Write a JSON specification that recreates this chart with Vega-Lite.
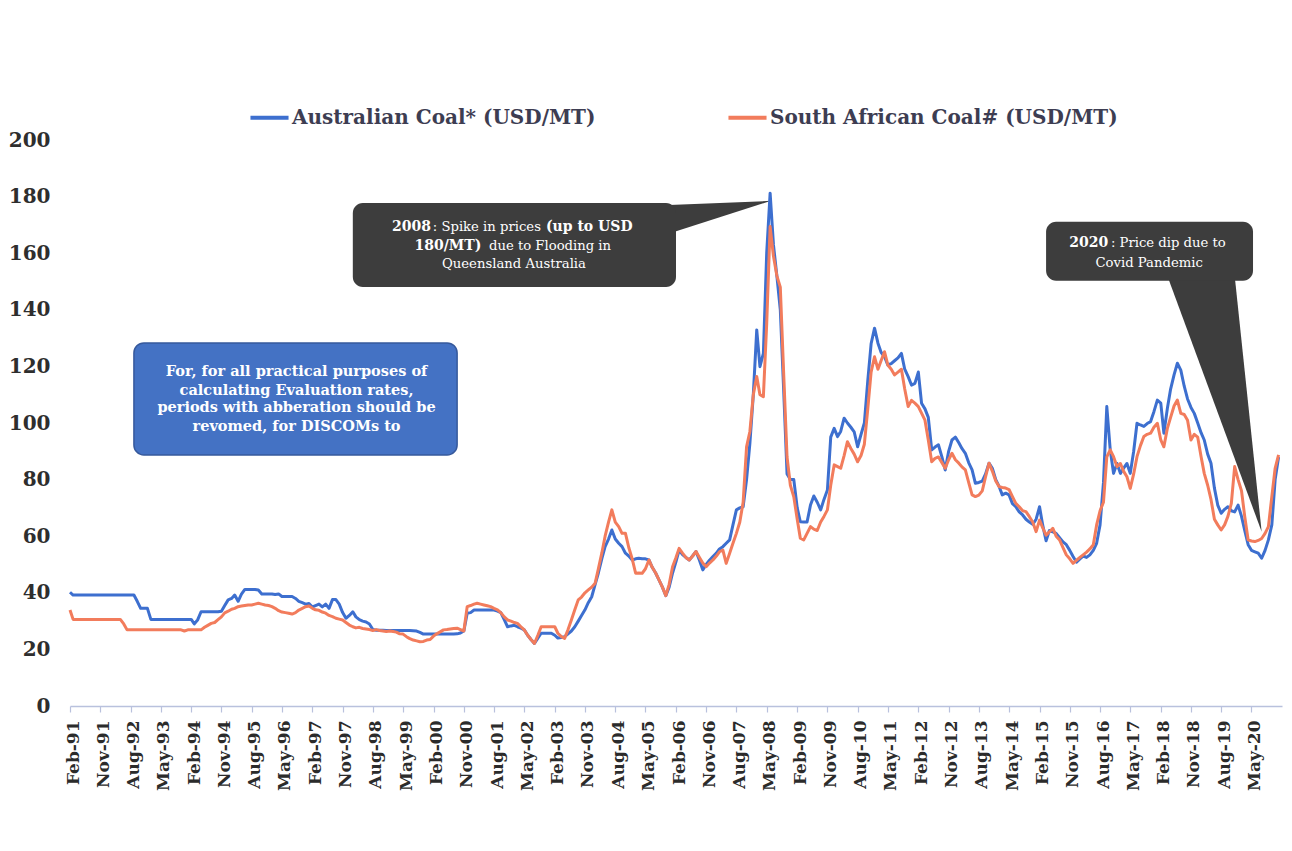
{
  "$schema": "https://vega.github.io/schema/vega-lite/v6.json",
  "width": 1212,
  "height": 566,
  "autosize": {"type": "none"},
  "padding": {"left": 70, "top": 140, "right": 10, "bottom": 145},
  "background": "white",
  "config": {
    "view": {"stroke": null},
    "font": "DejaVu Serif",
    "axisX": {
      "domainColor": "#b9c1dd", "domainWidth": 1.5,
      "tickColor": "#b9c1dd", "tickSize": 6, "tickWidth": 1.2,
      "labelAngle": -90, "labelPadding": 8, "labelOffset": 3,
      "labelFont": "DejaVu Serif", "labelFontWeight": "bold", "labelFontSize": 17,
      "labelColor": "#2b2b2b", "labelOverlap": false, "labelFlush": false,
      "grid": false
    },
    "axisY": {
      "domain": false, "ticks": false, "tickSize": 0, "grid": false,
      "labelPadding": 20,
      "labelFont": "DejaVu Serif", "labelFontWeight": "bold", "labelFontSize": 20,
      "labelColor": "#2e2e2e"
    }
  },
  "datasets": {
    "coal": [
      {"d":"1991-02-01","a":40.2,"s":33.9},{"d":"1991-03-01","a":39.2,"s":30.6},{"d":"1991-04-01","a":39.2,"s":30.6},{"d":"1991-05-01","a":39.2,"s":30.6},{"d":"1991-06-01","a":39.2,"s":30.6},{"d":"1991-07-01","a":39.2,"s":30.6},{"d":"1991-08-01","a":39.2,"s":30.6},{"d":"1991-09-01","a":39.2,"s":30.6},{"d":"1991-10-01","a":39.2,"s":30.6},{"d":"1991-11-01","a":39.2,"s":30.6},{"d":"1991-12-01","a":39.2,"s":30.6},
      {"d":"1992-01-01","a":39.2,"s":30.6},{"d":"1992-02-01","a":39.2,"s":30.6},{"d":"1992-03-01","a":39.2,"s":30.6},{"d":"1992-04-01","a":39.2,"s":30.6},{"d":"1992-05-01","a":39.2,"s":30.6},{"d":"1992-06-01","a":39.2,"s":29},{"d":"1992-07-01","a":39.2,"s":26.9},{"d":"1992-08-01","a":39.2,"s":26.9},{"d":"1992-09-01","a":39.2,"s":26.9},{"d":"1992-10-01","a":37,"s":26.9},{"d":"1992-11-01","a":34.5,"s":26.9},{"d":"1992-12-01","a":34.5,"s":26.9},
      {"d":"1993-01-01","a":34.5,"s":26.9},{"d":"1993-02-01","a":30.6,"s":26.9},{"d":"1993-03-01","a":30.6,"s":26.9},{"d":"1993-04-01","a":30.6,"s":26.9},{"d":"1993-05-01","a":30.6,"s":26.9},{"d":"1993-06-01","a":30.6,"s":26.9},{"d":"1993-07-01","a":30.6,"s":26.9},{"d":"1993-08-01","a":30.6,"s":26.9},{"d":"1993-09-01","a":30.6,"s":26.9},{"d":"1993-10-01","a":30.6,"s":26.9},{"d":"1993-11-01","a":30.6,"s":26.9},{"d":"1993-12-01","a":30.6,"s":26.5},
      {"d":"1994-01-01","a":30.6,"s":26.9},{"d":"1994-02-01","a":30.6,"s":26.9},{"d":"1994-03-01","a":29,"s":26.9},{"d":"1994-04-01","a":30.5,"s":26.9},{"d":"1994-05-01","a":33.3,"s":26.9},{"d":"1994-06-01","a":33.3,"s":27.8},{"d":"1994-07-01","a":33.3,"s":28.5},{"d":"1994-08-01","a":33.3,"s":29.2},{"d":"1994-09-01","a":33.3,"s":29.5},{"d":"1994-10-01","a":33.3,"s":30.5},{"d":"1994-11-01","a":33.5,"s":31.5},{"d":"1994-12-01","a":35.5,"s":32.9},
      {"d":"1995-01-01","a":37.5,"s":33.5},{"d":"1995-02-01","a":38,"s":34.2},{"d":"1995-03-01","a":39.2,"s":34.5},{"d":"1995-04-01","a":37,"s":35.1},{"d":"1995-05-01","a":39.5,"s":35.3},{"d":"1995-06-01","a":41.2,"s":35.5},{"d":"1995-07-01","a":41.2,"s":35.7},{"d":"1995-08-01","a":41.2,"s":35.7},{"d":"1995-09-01","a":41.2,"s":36},{"d":"1995-10-01","a":41,"s":36.3},{"d":"1995-11-01","a":39.6,"s":36},{"d":"1995-12-01","a":39.6,"s":35.7},
      {"d":"1996-01-01","a":39.6,"s":35.5},{"d":"1996-02-01","a":39.6,"s":35.1},{"d":"1996-03-01","a":39.4,"s":34.5},{"d":"1996-04-01","a":39.6,"s":33.7},{"d":"1996-05-01","a":38.7,"s":33.2},{"d":"1996-06-01","a":38.7,"s":33},{"d":"1996-07-01","a":38.7,"s":32.8},{"d":"1996-08-01","a":38.7,"s":32.5},{"d":"1996-09-01","a":38,"s":33},{"d":"1996-10-01","a":37,"s":33.9},{"d":"1996-11-01","a":36.5,"s":34.5},{"d":"1996-12-01","a":36,"s":35.1},
      {"d":"1997-01-01","a":36.2,"s":35.3},{"d":"1997-02-01","a":35,"s":34.5},{"d":"1997-03-01","a":35.5,"s":34},{"d":"1997-04-01","a":36,"s":33.8},{"d":"1997-05-01","a":35,"s":33.2},{"d":"1997-06-01","a":36,"s":32.8},{"d":"1997-07-01","a":34.5,"s":32},{"d":"1997-08-01","a":37.6,"s":31.6},{"d":"1997-09-01","a":37.6,"s":31},{"d":"1997-10-01","a":36,"s":30.7},{"d":"1997-11-01","a":33,"s":30.4},{"d":"1997-12-01","a":31,"s":29.5},
      {"d":"1998-01-01","a":32,"s":28.6},{"d":"1998-02-01","a":33.3,"s":28},{"d":"1998-03-01","a":31.5,"s":27.6},{"d":"1998-04-01","a":30.5,"s":27.8},{"d":"1998-05-01","a":30,"s":27.4},{"d":"1998-06-01","a":29.7,"s":27.2},{"d":"1998-07-01","a":29,"s":27},{"d":"1998-08-01","a":27,"s":26.7},{"d":"1998-09-01","a":26.8,"s":27},{"d":"1998-10-01","a":26.8,"s":26.7},{"d":"1998-11-01","a":26.8,"s":26.5},{"d":"1998-12-01","a":26.7,"s":26.3},
      {"d":"1999-01-01","a":26.7,"s":26.5},{"d":"1999-02-01","a":26.7,"s":26.3},{"d":"1999-03-01","a":26.7,"s":26.1},{"d":"1999-04-01","a":26.7,"s":25.5},{"d":"1999-05-01","a":26.7,"s":25.4},{"d":"1999-06-01","a":26.7,"s":24.5},{"d":"1999-07-01","a":26.7,"s":23.8},{"d":"1999-08-01","a":26.6,"s":23.3},{"d":"1999-09-01","a":26.5,"s":23},{"d":"1999-10-01","a":26,"s":22.7},{"d":"1999-11-01","a":25.4,"s":22.8},{"d":"1999-12-01","a":25.4,"s":23.3},
      {"d":"2000-01-01","a":25.4,"s":23.5},{"d":"2000-02-01","a":25.4,"s":24.7},{"d":"2000-03-01","a":25.4,"s":25.5},{"d":"2000-04-01","a":25.4,"s":26.2},{"d":"2000-05-01","a":25.4,"s":26.9},{"d":"2000-06-01","a":25.4,"s":27},{"d":"2000-07-01","a":25.4,"s":27.2},{"d":"2000-08-01","a":25.4,"s":27.4},{"d":"2000-09-01","a":25.5,"s":27.5},{"d":"2000-10-01","a":25.8,"s":27},{"d":"2000-11-01","a":26.5,"s":26.5},{"d":"2000-12-01","a":32.8,"s":35.1},
      {"d":"2001-01-01","a":33,"s":35.5},{"d":"2001-02-01","a":33.9,"s":36},{"d":"2001-03-01","a":33.9,"s":36.3},{"d":"2001-04-01","a":33.9,"s":36},{"d":"2001-05-01","a":33.9,"s":35.7},{"d":"2001-06-01","a":33.9,"s":35.4},{"d":"2001-07-01","a":33.9,"s":35.1},{"d":"2001-08-01","a":33.9,"s":34.5},{"d":"2001-09-01","a":33.5,"s":34},{"d":"2001-10-01","a":33,"s":33},{"d":"2001-11-01","a":30.5,"s":31.5},{"d":"2001-12-01","a":28,"s":30.4},
      {"d":"2002-01-01","a":28.3,"s":30},{"d":"2002-02-01","a":28.5,"s":29.5},{"d":"2002-03-01","a":28,"s":29.2},{"d":"2002-04-01","a":27.5,"s":28},{"d":"2002-05-01","a":26.9,"s":26.9},{"d":"2002-06-01","a":25,"s":25},{"d":"2002-07-01","a":23.5,"s":23.5},{"d":"2002-08-01","a":22.1,"s":22.1},{"d":"2002-09-01","a":24,"s":25},{"d":"2002-10-01","a":25.7,"s":28},{"d":"2002-11-01","a":25.7,"s":28},{"d":"2002-12-01","a":25.7,"s":28},
      {"d":"2003-01-01","a":25.7,"s":28},{"d":"2003-02-01","a":25,"s":28},{"d":"2003-03-01","a":24,"s":25.7},{"d":"2003-04-01","a":24.2,"s":24.5},{"d":"2003-05-01","a":24.5,"s":23.9},{"d":"2003-06-01","a":25.5,"s":27},{"d":"2003-07-01","a":26.5,"s":30.4},{"d":"2003-08-01","a":28,"s":34},{"d":"2003-09-01","a":30,"s":37.5},{"d":"2003-10-01","a":32,"s":38.5},{"d":"2003-11-01","a":34,"s":40},{"d":"2003-12-01","a":36.5,"s":41},
      {"d":"2004-01-01","a":38.6,"s":42},{"d":"2004-02-01","a":43,"s":43.4},{"d":"2004-03-01","a":47,"s":48.5},{"d":"2004-04-01","a":52,"s":54},{"d":"2004-05-01","a":56.3,"s":60},{"d":"2004-06-01","a":59,"s":65},{"d":"2004-07-01","a":62.2,"s":69.3},{"d":"2004-08-01","a":59,"s":65},{"d":"2004-09-01","a":57.5,"s":63.4},{"d":"2004-10-01","a":56.3,"s":61},{"d":"2004-11-01","a":54,"s":61},{"d":"2004-12-01","a":53,"s":56},
      {"d":"2005-01-01","a":51.6,"s":52},{"d":"2005-02-01","a":52,"s":46.9},{"d":"2005-03-01","a":52.2,"s":47},{"d":"2005-04-01","a":52,"s":46.9},{"d":"2005-05-01","a":52,"s":48.5},{"d":"2005-06-01","a":51.6,"s":51.6},{"d":"2005-07-01","a":49,"s":49},{"d":"2005-08-01","a":47,"s":47},{"d":"2005-09-01","a":44.5,"s":44.5},{"d":"2005-10-01","a":42,"s":42},{"d":"2005-11-01","a":39,"s":39},{"d":"2005-12-01","a":42,"s":43},
      {"d":"2006-01-01","a":47,"s":49.2},{"d":"2006-02-01","a":51,"s":52.5},{"d":"2006-03-01","a":55.1,"s":55.7},{"d":"2006-04-01","a":53.5,"s":54},{"d":"2006-05-01","a":52.5,"s":52.5},{"d":"2006-06-01","a":51.6,"s":51.6},{"d":"2006-07-01","a":53,"s":53},{"d":"2006-08-01","a":54.6,"s":54.6},{"d":"2006-09-01","a":51.5,"s":52.5},{"d":"2006-10-01","a":48.1,"s":50.5},{"d":"2006-11-01","a":50,"s":49.2},{"d":"2006-12-01","a":51.5,"s":50.5},
      {"d":"2007-01-01","a":52.8,"s":51.6},{"d":"2007-02-01","a":54,"s":53},{"d":"2007-03-01","a":55.5,"s":54.5},{"d":"2007-04-01","a":56.3,"s":55.1},{"d":"2007-05-01","a":57.5,"s":50.4},{"d":"2007-06-01","a":58.7,"s":54},{"d":"2007-07-01","a":64,"s":57.5},{"d":"2007-08-01","a":69.3,"s":61},{"d":"2007-09-01","a":70,"s":65},{"d":"2007-10-01","a":70.4,"s":72},{"d":"2007-11-01","a":80,"s":91.6},{"d":"2007-12-01","a":92.8,"s":97},
      {"d":"2008-01-01","a":110,"s":110},{"d":"2008-02-01","a":132.9,"s":116.4},{"d":"2008-03-01","a":119.9,"s":110},{"d":"2008-04-01","a":124.6,"s":109.3},{"d":"2008-05-01","a":160,"s":135},{"d":"2008-06-01","a":181.2,"s":169.4},{"d":"2008-07-01","a":163,"s":159},{"d":"2008-08-01","a":152,"s":152},{"d":"2008-09-01","a":140,"s":148},{"d":"2008-10-01","a":112,"s":118},{"d":"2008-11-01","a":82,"s":88},{"d":"2008-12-01","a":80,"s":78},
      {"d":"2009-01-01","a":80,"s":73.9},{"d":"2009-02-01","a":70,"s":66},{"d":"2009-03-01","a":65.1,"s":59.3},{"d":"2009-04-01","a":65,"s":58.7},{"d":"2009-05-01","a":65,"s":61},{"d":"2009-06-01","a":71,"s":63.4},{"d":"2009-07-01","a":74.2,"s":62.5},{"d":"2009-08-01","a":72,"s":62},{"d":"2009-09-01","a":69.3,"s":65},{"d":"2009-10-01","a":73,"s":67},{"d":"2009-11-01","a":76.3,"s":69.3},{"d":"2009-12-01","a":95,"s":78},
      {"d":"2010-01-01","a":98.1,"s":85.2},{"d":"2010-02-01","a":95.2,"s":84.6},{"d":"2010-03-01","a":97,"s":84},{"d":"2010-04-01","a":101.7,"s":88.5},{"d":"2010-05-01","a":100,"s":93.4},{"d":"2010-06-01","a":98.5,"s":91},{"d":"2010-07-01","a":96.9,"s":89},{"d":"2010-08-01","a":91.6,"s":86.3},{"d":"2010-09-01","a":96,"s":88.5},{"d":"2010-10-01","a":100,"s":92.5},{"d":"2010-11-01","a":115,"s":105},{"d":"2010-12-01","a":128,"s":118},
      {"d":"2011-01-01","a":133.5,"s":123.4},{"d":"2011-02-01","a":128.2,"s":119},{"d":"2011-03-01","a":125,"s":122},{"d":"2011-04-01","a":123.4,"s":125.2},{"d":"2011-05-01","a":120.5,"s":120.5},{"d":"2011-06-01","a":121,"s":119},{"d":"2011-07-01","a":122,"s":117},{"d":"2011-08-01","a":123,"s":118},{"d":"2011-09-01","a":124.6,"s":119},{"d":"2011-10-01","a":119,"s":112},{"d":"2011-11-01","a":116.4,"s":105.8},{"d":"2011-12-01","a":113.4,"s":108},
      {"d":"2012-01-01","a":114,"s":107},{"d":"2012-02-01","a":118,"s":105.8},{"d":"2012-03-01","a":107,"s":103.5},{"d":"2012-04-01","a":105,"s":101},{"d":"2012-05-01","a":102,"s":94},{"d":"2012-06-01","a":90.5,"s":86.3},{"d":"2012-07-01","a":91.5,"s":87.5},{"d":"2012-08-01","a":92.3,"s":88},{"d":"2012-09-01","a":88,"s":86},{"d":"2012-10-01","a":83.4,"s":84},{"d":"2012-11-01","a":90,"s":87},{"d":"2012-12-01","a":94,"s":89.3},
      {"d":"2013-01-01","a":95,"s":87},{"d":"2013-02-01","a":93,"s":85.8},{"d":"2013-03-01","a":91,"s":84.5},{"d":"2013-04-01","a":89.3,"s":83.4},{"d":"2013-05-01","a":86,"s":79},{"d":"2013-06-01","a":83.4,"s":74.6},{"d":"2013-07-01","a":78.7,"s":74},{"d":"2013-08-01","a":79,"s":74.5},{"d":"2013-09-01","a":79.5,"s":76},{"d":"2013-10-01","a":82,"s":81},{"d":"2013-11-01","a":85.8,"s":85.8},{"d":"2013-12-01","a":84,"s":83},
      {"d":"2014-01-01","a":80,"s":79.5},{"d":"2014-02-01","a":77.5,"s":77.5},{"d":"2014-03-01","a":74.6,"s":77.2},{"d":"2014-04-01","a":75.2,"s":77},{"d":"2014-05-01","a":74.6,"s":76.5},{"d":"2014-06-01","a":71.5,"s":74},{"d":"2014-07-01","a":70.4,"s":71.6},{"d":"2014-08-01","a":68.6,"s":70.4},{"d":"2014-09-01","a":67.5,"s":69},{"d":"2014-10-01","a":66,"s":68.7},{"d":"2014-11-01","a":65,"s":66.9},{"d":"2014-12-01","a":64.2,"s":65},
      {"d":"2015-01-01","a":66,"s":61.6},{"d":"2015-02-01","a":70.4,"s":65.7},{"d":"2015-03-01","a":64,"s":63},{"d":"2015-04-01","a":58.4,"s":60.4},{"d":"2015-05-01","a":62,"s":61.5},{"d":"2015-06-01","a":61.5,"s":62.8},{"d":"2015-07-01","a":61,"s":60},{"d":"2015-08-01","a":59.5,"s":58.7},{"d":"2015-09-01","a":58,"s":56},{"d":"2015-10-01","a":57,"s":53.4},{"d":"2015-11-01","a":55,"s":52},{"d":"2015-12-01","a":52.8,"s":50.4},
      {"d":"2016-01-01","a":50.8,"s":51.5},{"d":"2016-02-01","a":52,"s":52.5},{"d":"2016-03-01","a":53,"s":53.4},{"d":"2016-04-01","a":52.5,"s":54.4},{"d":"2016-05-01","a":53.4,"s":55.5},{"d":"2016-06-01","a":55,"s":57},{"d":"2016-07-01","a":57.5,"s":64},{"d":"2016-08-01","a":64,"s":69},{"d":"2016-09-01","a":79,"s":72},{"d":"2016-10-01","a":105.8,"s":88},{"d":"2016-11-01","a":90.5,"s":90.5},{"d":"2016-12-01","a":82.2,"s":88.1},
      {"d":"2017-01-01","a":85.7,"s":84.6},{"d":"2017-02-01","a":82.2,"s":85.7},{"d":"2017-03-01","a":84,"s":83},{"d":"2017-04-01","a":85.7,"s":81},{"d":"2017-05-01","a":82.2,"s":76.9},{"d":"2017-06-01","a":90,"s":82},{"d":"2017-07-01","a":99.9,"s":88.1},{"d":"2017-08-01","a":99.3,"s":92},{"d":"2017-09-01","a":98.8,"s":95.2},{"d":"2017-10-01","a":99.8,"s":96},{"d":"2017-11-01","a":100.5,"s":96.4},{"d":"2017-12-01","a":104,"s":98.5},
      {"d":"2018-01-01","a":108.1,"s":99.9},{"d":"2018-02-01","a":107,"s":94},{"d":"2018-03-01","a":96.4,"s":91.6},{"d":"2018-04-01","a":105,"s":98},{"d":"2018-05-01","a":112,"s":102},{"d":"2018-06-01","a":117,"s":106},{"d":"2018-07-01","a":121.1,"s":108.1},{"d":"2018-08-01","a":118.7,"s":103.4},{"d":"2018-09-01","a":113,"s":103},{"d":"2018-10-01","a":108.5,"s":101},{"d":"2018-11-01","a":105.5,"s":94},{"d":"2018-12-01","a":103.4,"s":96},
      {"d":"2019-01-01","a":100,"s":95},{"d":"2019-02-01","a":96.5,"s":88},{"d":"2019-03-01","a":94,"s":82.2},{"d":"2019-04-01","a":89,"s":78},{"d":"2019-05-01","a":85.8,"s":73},{"d":"2019-06-01","a":77,"s":66},{"d":"2019-07-01","a":71,"s":64},{"d":"2019-08-01","a":68.1,"s":62.2},{"d":"2019-09-01","a":69.5,"s":64},{"d":"2019-10-01","a":70.4,"s":67},{"d":"2019-11-01","a":69,"s":71.6},{"d":"2019-12-01","a":68.6,"s":84.6},
      {"d":"2020-01-01","a":71,"s":80},{"d":"2020-02-01","a":67,"s":76},{"d":"2020-03-01","a":62,"s":67},{"d":"2020-04-01","a":57,"s":58.7},{"d":"2020-05-01","a":55,"s":58.3},{"d":"2020-06-01","a":54.5,"s":58.1},{"d":"2020-07-01","a":54,"s":58.5},{"d":"2020-08-01","a":52.2,"s":59.2},{"d":"2020-09-01","a":55,"s":61},{"d":"2020-10-01","a":58.7,"s":63.4},{"d":"2020-11-01","a":64,"s":74},{"d":"2020-12-01","a":80,"s":84},
      {"d":"2021-01-01","a":88,"s":88.7}
    ]
  },
  "encoding": {
    "x": {
      "field": "d", "type": "temporal", "title": null,
      "scale": {"type": "utc", "domain": [{"year": 1991, "month": 2, "date": 1, "utc": true}, {"year": 2021, "month": 2, "date": 1, "utc": true}]},
      "axis": {
        "format": "%b-%y",
        "labelOverlap": false,
        "labelBound": false,
        "labelSeparation": 0,
        "values": [
          {"year": 1991, "month": 2, "date": 1, "utc": true}, {"year": 1991, "month": 11, "date": 1, "utc": true},
          {"year": 1992, "month": 8, "date": 1, "utc": true}, {"year": 1993, "month": 5, "date": 1, "utc": true},
          {"year": 1994, "month": 2, "date": 1, "utc": true}, {"year": 1994, "month": 11, "date": 1, "utc": true},
          {"year": 1995, "month": 8, "date": 1, "utc": true}, {"year": 1996, "month": 5, "date": 1, "utc": true},
          {"year": 1997, "month": 2, "date": 1, "utc": true}, {"year": 1997, "month": 11, "date": 1, "utc": true},
          {"year": 1998, "month": 8, "date": 1, "utc": true}, {"year": 1999, "month": 5, "date": 1, "utc": true},
          {"year": 2000, "month": 2, "date": 1, "utc": true}, {"year": 2000, "month": 11, "date": 1, "utc": true},
          {"year": 2001, "month": 8, "date": 1, "utc": true}, {"year": 2002, "month": 5, "date": 1, "utc": true},
          {"year": 2003, "month": 2, "date": 1, "utc": true}, {"year": 2003, "month": 11, "date": 1, "utc": true},
          {"year": 2004, "month": 8, "date": 1, "utc": true}, {"year": 2005, "month": 5, "date": 1, "utc": true},
          {"year": 2006, "month": 2, "date": 1, "utc": true}, {"year": 2006, "month": 11, "date": 1, "utc": true},
          {"year": 2007, "month": 8, "date": 1, "utc": true}, {"year": 2008, "month": 5, "date": 1, "utc": true},
          {"year": 2009, "month": 2, "date": 1, "utc": true}, {"year": 2009, "month": 11, "date": 1, "utc": true},
          {"year": 2010, "month": 8, "date": 1, "utc": true}, {"year": 2011, "month": 5, "date": 1, "utc": true},
          {"year": 2012, "month": 2, "date": 1, "utc": true}, {"year": 2012, "month": 11, "date": 1, "utc": true},
          {"year": 2013, "month": 8, "date": 1, "utc": true}, {"year": 2014, "month": 5, "date": 1, "utc": true},
          {"year": 2015, "month": 2, "date": 1, "utc": true}, {"year": 2015, "month": 11, "date": 1, "utc": true},
          {"year": 2016, "month": 8, "date": 1, "utc": true}, {"year": 2017, "month": 5, "date": 1, "utc": true},
          {"year": 2018, "month": 2, "date": 1, "utc": true}, {"year": 2018, "month": 11, "date": 1, "utc": true},
          {"year": 2019, "month": 8, "date": 1, "utc": true}, {"year": 2020, "month": 5, "date": 1, "utc": true}
        ]
      }
    },
    "y": {
      "field": "v", "type": "quantitative", "title": null,
      "scale": {"domain": [0, 200]},
      "axis": {"values": [0, 20, 40, 60, 80, 100, 120, 140, 160, 180, 200]}
    }
  },
  "layer": [
    {
      "data": {"values": [
        {"d": "2005-12-01", "v": 177, "v2": 167},
        {"d": "2008-06-10", "v": 178.5, "v2": 178.5}
      ]},
      "mark": {"type": "area", "color": "#3d3d3d", "opacity": 1},
      "encoding": {"y2": {"field": "v2"}}
    },
    {
      "data": {"values": [
        {"v": 152, "d": "2018-04-01", "d2": "2019-12-01"},
        {"v": 61.6, "d": "2020-08-01", "d2": "2020-08-01"}
      ]},
      "mark": {"type": "area", "orient": "horizontal", "color": "#3d3d3d", "opacity": 1},
      "encoding": {"x2": {"field": "d2"}}
    },
    {
      "data": {"values": [
        {"d": "1998-02-01", "d2": "2006-02-01", "v": 177.7, "v2": 148.1},
        {"d": "2015-04-01", "d2": "2020-05-15", "v": 171.1, "v2": 150.3}
      ]},
      "mark": {"type": "rect", "fill": "#3d3d3d", "cornerRadius": 10},
      "encoding": {"x2": {"field": "d2"}, "y2": {"field": "v2"}}
    },
    {
      "data": {"values": [
        {"d": "1992-09-01", "d2": "2000-09-01", "v": 128.3, "v2": 88.7}
      ]},
      "mark": {"type": "rect", "fill": "#4472c4", "stroke": "#36599c", "strokeWidth": 1.5, "cornerRadius": 10},
      "encoding": {"x2": {"field": "d2"}, "y2": {"field": "v2"}}
    },
    {
      "data": {"values": [
        {"d": "1996-09-10", "v": 118.1, "t": "For, for all practical purposes of"},
        {"d": "1996-09-10", "v": 111.4, "t": "calculating Evaluation rates,"},
        {"d": "1996-09-10", "v": 105.2, "t": "periods with abberation should be"},
        {"d": "1996-09-10", "v": 98.7, "t": "revomed, for DISCOMs to"}
      ]},
      "mark": {"type": "text", "font": "DejaVu Serif", "fontWeight": "bold", "fontSize": 14.5, "color": "white", "align": "center", "baseline": "middle"},
      "encoding": {"text": {"field": "t"}}
    },
    {
      "data": {"values": [
        {"d": "1999-01-21", "v": 169.4, "t": "2008"},
        {"d": "2002-11-13", "v": 169.4, "t": "(up to USD"},
        {"d": "1999-08-13", "v": 162.7, "t": "180/MT)"},
        {"d": "2015-10-27", "v": 163.5, "t": "2020"}
      ]},
      "mark": {"type": "text", "font": "DejaVu Serif", "fontWeight": "bold", "fontSize": 14, "color": "white", "align": "left", "baseline": "middle"},
      "encoding": {"text": {"field": "t"}}
    },
    {
      "data": {"values": [
        {"d": "2000-01-25", "v": 169.4, "t": ": Spike in prices"},
        {"d": "2001-06-16", "v": 162.7, "t": "due to Flooding in"},
        {"d": "2016-11-07", "v": 163.5, "t": ": Price dip due to"}
      ]},
      "mark": {"type": "text", "font": "DejaVu Serif", "fontSize": 13.2, "color": "white", "align": "left", "baseline": "middle"},
      "encoding": {"text": {"field": "t"}}
    },
    {
      "data": {"values": [
        {"d": "2002-01-28", "v": 156.2, "t": "Queensland Australia"},
        {"d": "2017-10-19", "v": 156.6, "t": "Covid Pandemic"}
      ]},
      "mark": {"type": "text", "font": "DejaVu Serif", "fontSize": 13.2, "color": "white", "align": "center", "baseline": "middle"},
      "encoding": {"text": {"field": "t"}}
    },
    {
      "data": {"name": "coal"},
      "transform": [{"fold": ["a", "s"], "as": ["k", "v"]}],
      "mark": {"type": "line", "strokeWidth": 3, "strokeJoin": "round"},
      "encoding": {
        "color": {
          "field": "k", "type": "nominal",
          "scale": {"domain": ["a", "s"], "range": ["#3d6fcf", "#f27c5c"]},
          "legend": {
            "orient": "none", "legendX": 178, "legendY": -44, "direction": "horizontal",
            "title": null, "symbolType": "stroke", "symbolSize": 1450, "symbolStrokeWidth": 4,
            "labelFont": "DejaVu Serif", "labelFontWeight": "bold", "labelFontSize": 20,
            "labelColor": "#3d3d52", "labelOffset": 1, "labelLimit": 0, "columnPadding": 124,
            "labelExpr": "datum.label == 'a' ? 'Australian Coal* (USD/MT)' : 'South African Coal# (USD/MT)'"
          }
        }
      }
    }
  ]
}
